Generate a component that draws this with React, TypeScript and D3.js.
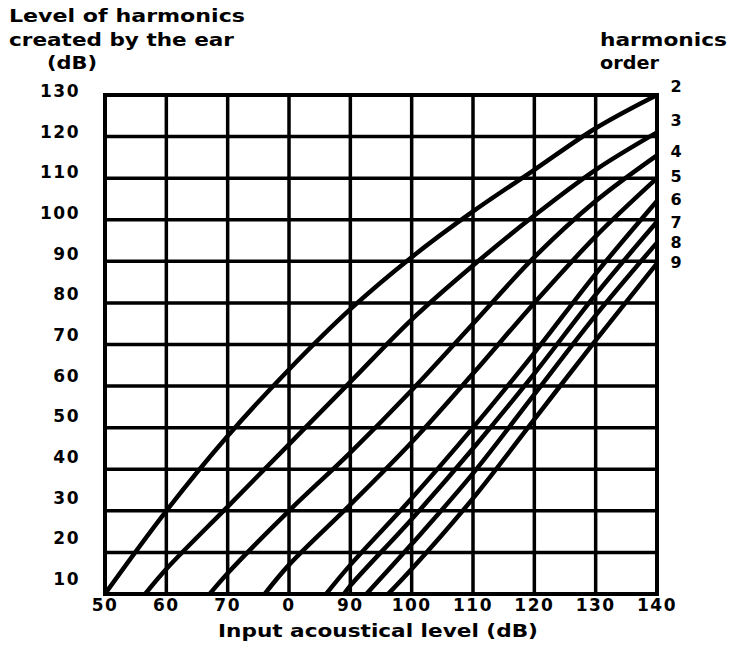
import React from 'react';
import * as d3 from 'd3';

// axis ticks
const xTicks = [50, 60, 70, 80, 90, 100, 110, 120, 130, 140];
const xTickLabels = ['50', '60', '70', '0', '90', '100', '110', '120', '130', '140'];
const yTicks = [10, 20, 30, 40, 50, 60, 70, 80, 90, 100, 110, 120, 130];

// harmonic level curves: [input dB, harmonic dB]
const h2 = [[49.5, 9], [60, 30], [70, 48], [80, 64], [90, 78.5], [100, 91], [110, 102], [120, 112], [130, 122], [140, 130]];
const h3 = [[56, 9], [60, 16], [70, 31], [80, 46], [90, 61], [100, 76], [110, 89], [120, 101], [130, 112], [140, 121]];
const h4 = [[66.5, 9], [70, 15], [80, 30], [90, 44], [100, 59], [110, 75], [120, 91], [130, 104.5], [140, 115.5]];
const h5 = [[75.5, 9], [80, 17], [90, 31.5], [100, 46.5], [110, 63], [120, 80], [130, 96], [140, 110]];
const h6 = [[85.5, 9], [90, 17], [100, 33], [110, 50], [120, 68], [130, 87], [140, 104.5]];
const h7 = [[88.5, 9], [90, 12], [100, 28], [110, 45], [120, 63], [130, 82], [140, 99.5]];
const h8 = [[92, 9], [100, 22], [110, 39], [120, 58], [130, 77], [140, 94.5]];
const h9 = [[95.5, 9], [100, 16], [110, 33], [120, 52], [130, 71], [140, 89.5]];

const harmonicOrders = ['2', '3', '4', '5', '6', '7', '8', '9'];
const harmonicCurves = [h2, h3, h4, h5, h6, h7, h8, h9];
// level (dB) where each order label sits at the right edge
const orderLabelLevels = [132, 124, 116.5, 110.5, 105, 99.5, 94.5, 89.8];

const W = 729;
const H = 645;
const font = '"DejaVu Sans", sans-serif';

export default function App() {
  const x = d3.scaleLinear().domain([50, 140]).range([105, 657]);
  const y = d3.scaleLinear().domain([10, 130]).range([594, 95]);
  // the printed y labels drift slightly off their grid lines
  const yLabel = d3.scaleLinear().domain([10, 130]).range([579, 91]);

  const line = d3.line<number[]>()
    .x(d => x(d[0]))
    .y(d => y(d[1]))
    .curve(d3.curveCatmullRom.alpha(0.5));

  const [x0, x1] = x.range();
  const [y0, y1] = y.range();

  return (
    <svg width={W} height={H} style={{ position: 'absolute', left: 0, top: 0, background: '#fff' }}>
      <defs>
        <clipPath id="plot">
          <rect x={x0 - 2} y={y1} width={x1 - x0 + 4} height={y0 - y1} />
        </clipPath>
      </defs>

      {/* grid */}
      {xTicks.map(t => (
        <line key={'vx' + t} x1={x(t)} x2={x(t)} y1={y1} y2={y0} stroke="#000" strokeWidth={3.5} />
      ))}
      {yTicks.map(t => (
        <line key={'hy' + t} x1={x0} x2={x1} y1={y(t)} y2={y(t)} stroke="#000" strokeWidth={3.5} />
      ))}
      <rect x={x0} y={y1} width={x1 - x0} height={y0 - y1} fill="none" stroke="#000" strokeWidth={4} />

      {/* curves */}
      <g clipPath="url(#plot)">
        {harmonicCurves.map((c, i) => (
          <path key={'c' + i} d={line(c) || ''} fill="none" stroke="#000" strokeWidth={4.5} strokeLinecap="round" />
        ))}
      </g>

      {/* y tick labels */}
      {yTicks.map(t => (
        <text key={'yl' + t} x={80} y={yLabel(t)} dy="0.36em" textAnchor="end"
          fontFamily={font} fontWeight="bold" fontSize={17} letterSpacing={1.5}>{t}</text>
      ))}

      {/* x tick labels */}
      {xTicks.map((t, i) => (
        <text key={'xl' + t} x={x(t)} y={611} textAnchor="middle"
          fontFamily={font} fontWeight="bold" fontSize={17} letterSpacing={1.5}>{xTickLabels[i]}</text>
      ))}

      {/* harmonic order labels */}
      {harmonicOrders.map((o, i) => (
        <text key={'o' + o} x={676} y={y(orderLabelLevels[i])} dy="0.36em" textAnchor="middle"
          fontFamily={font} fontWeight="bold" fontSize={16}>{o}</text>
      ))}

      {/* titles */}
      <g fontFamily={font} fontWeight="bold" fontSize={17}>
        <text x={9} y={22} textLength={236} lengthAdjust="spacingAndGlyphs">Level of harmonics</text>
        <text x={9} y={46} textLength={225} lengthAdjust="spacingAndGlyphs">created by the ear</text>
        <text x={47} y={69} textLength={50} lengthAdjust="spacingAndGlyphs">(dB)</text>
        <text x={600} y={46} textLength={127} lengthAdjust="spacingAndGlyphs">harmonics</text>
        <text x={600} y={69} textLength={59} lengthAdjust="spacingAndGlyphs">order</text>
        <text x={218} y={637} textLength={320} lengthAdjust="spacingAndGlyphs">Input acoustical level (dB)</text>
      </g>
    </svg>
  );
}
